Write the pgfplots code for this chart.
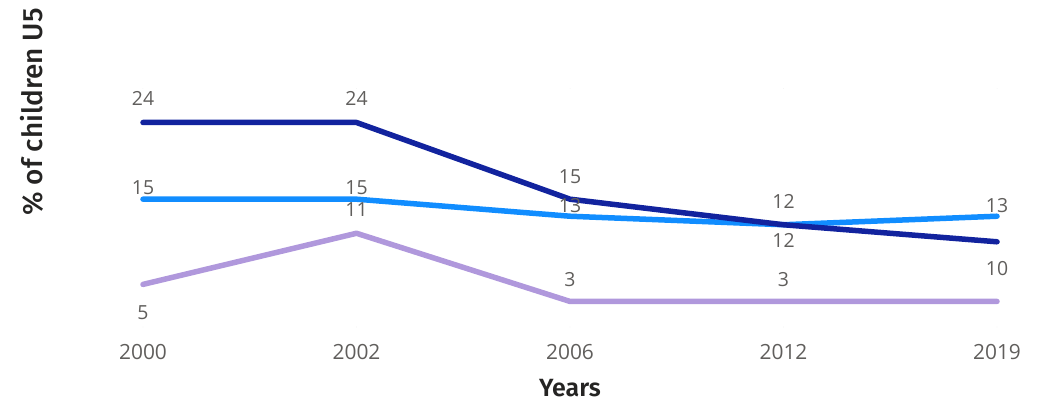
\documentclass[border=0pt]{standalone}
\usepackage{pgfplots}
\pgfplotsset{compat=1.18}
\usepackage{pgfplotstable}
\usepackage{fontspec}
\setmainfont{Open Sans}
\newfontfamily\titlefont{Fira Sans}[UprightFont=* SemiBold, BoldFont=* Bold]
\newfontfamily\ytitlefont{Fira Sans}[UprightFont=* Medium, BoldFont=* Bold]
\definecolor{darkb}{HTML}{12239E}
\definecolor{lightb}{HTML}{118DFF}
\definecolor{purp}{HTML}{B098DC}
\definecolor{lblgray}{HTML}{605E5C}
\definecolor{titlegray}{HTML}{252423}

\pgfplotstableread{
x y
0 24
1 24
2 15
3 12
4 10
}\dark
\pgfplotstableread{
x y
0 15
1 15
2 13
3 12
4 13
}\light
\pgfplotstableread{
x y
0 5
1 11
2 3
3 3
4 3
}\purple
% data labels: x, y, vertical offset (bp) of label centre from the point
\pgfplotstableread{
x y dy
0 24 24
1 24 24
2 15 23
3 12 -16
4 10 -27
0 15 12
1 15 12
2 13 11
3 12 23
4 13 11
0 5 -28
1 11 24
2 3 22
3 3 22
}\labels

\begin{document}
\begin{tikzpicture}[x=1bp,y=1bp]
\useasboundingbox (-143,-77) rectangle (900,327);
\begin{axis}[
  at={(0,0)}, anchor=south west,
  scale only axis,
  width=854bp, height=238.6bp,
  xmin=0, xmax=4, ymin=0, ymax=28,
  enlarge x limits=false,
  axis line style={draw=none},
  ytick=\empty,
  xtick={0,1,2,3,4},
  xticklabels={2000,2002,2006,2012,2019},
  major tick length=0pt,
  xticklabel style={anchor=center, yshift=-25bp, text=lblgray, font=\fontsize{21}{21}\selectfont},
  xlabel={Years},
  xlabel style={at={(axis description cs:0.5,0)}, anchor=center, yshift=-61bp, text=titlegray, font=\titlefont\fontsize{25}{25}\selectfont},
  ylabel={\% of children U5},
  ylabel style={at={(axis description cs:-0.130,0.901)}, anchor=center, rotate=0, text=titlegray, font=\ytitlefont\fontsize{28}{28}\selectfont},
  clip=false,
  line join=round, line cap=round,
]
\addplot[draw=purp, line width=5.5bp] table[x=x,y=y] {\purple};
\addplot[draw=lightb, line width=5.5bp] table[x=x,y=y] {\light};
\addplot[draw=darkb, line width=5.5bp] table[x=x,y=y] {\dark};
\addplot[draw=none, mark=none,
  visualization depends on={\thisrow{dy} \as \dy},
  nodes near coords,
  point meta=explicit,
  nodes near coords style={anchor=center, yshift=\dy bp, text=lblgray, font=\fontsize{19.5}{19.5}\selectfont, /pgf/number format/fixed, /pgf/number format/precision=0, /pgf/number format/assume math mode=true},
] table[x=x, y=y, meta=y] {\labels};
\end{axis}
\end{tikzpicture}
\end{document}
